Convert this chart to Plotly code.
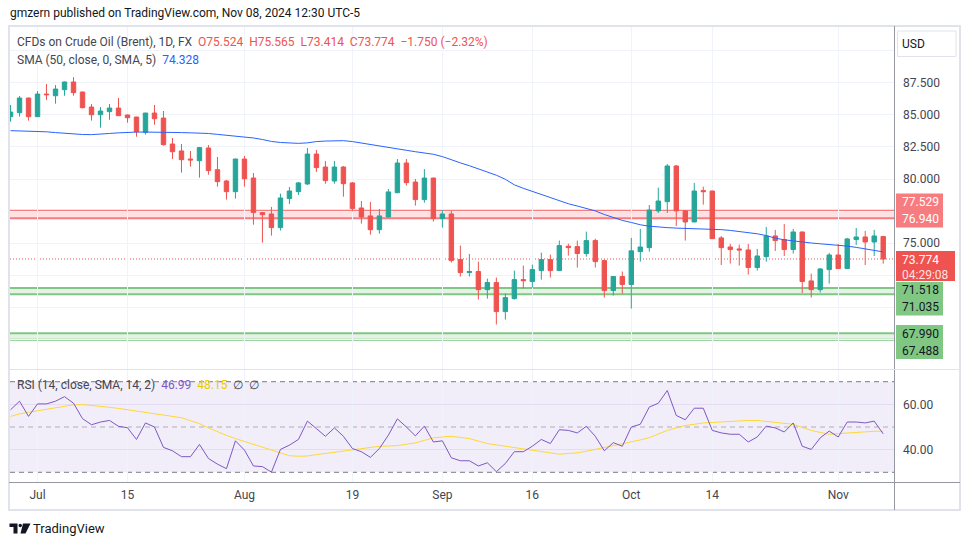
import plotly.graph_objects as go
import pandas as pd

# ---------------- data ----------------
dates = [d.strftime("%Y-%m-%d") for d in pd.bdate_range("2024-06-26", "2024-11-08")]

opens = [84.86, 85.17, 86.31, 84.86, 86.62, 86.49, 86.96, 87.56, 86.78, 85.61,
         85.01, 85.25, 85.53, 84.99, 84.83, 83.64, 85.14, 84.75, 82.73, 82.19,
         81.56, 81.43, 82.42, 80.73, 79.85, 79.02, 81.56, 80.08, 77.39, 77.28,
         76.22, 78.48, 79.02, 79.62, 81.95, 80.94, 79.85, 80.94, 79.70, 77.75,
         77.13, 76.06, 77.05, 78.94, 81.25, 79.77, 78.40, 80.08, 76.92, 77.28,
         73.73, 72.72, 72.80, 71.39, 71.94, 69.68, 70.69, 72.17, 72.02, 72.87,
         73.73, 72.87, 74.77, 74.74, 74.20, 75.21, 73.65, 71.32, 72.41, 71.79,
         74.35, 74.66, 77.52, 78.24, 81.02, 77.52, 76.66, 79.10, 79.07, 75.42,
         74.71, 74.56, 74.48, 73.11, 73.96, 75.57, 75.29, 74.51, 75.88, 72.07,
         71.39, 72.95, 74.09, 73.03, 75.29, 75.49, 75.10, 75.524]
highs = [85.77, 86.47, 86.35, 86.85, 87.40, 87.32, 87.60, 87.94, 86.80, 85.84,
         85.61, 85.84, 86.31, 85.02, 84.85, 85.16, 85.77, 85.30, 83.20, 82.73,
         82.19, 82.50, 82.65, 81.72, 79.93, 81.58, 81.80, 80.47, 77.42, 77.83,
         78.87, 79.38, 79.77, 82.42, 82.26, 81.41, 81.41, 81.02, 79.77, 78.29,
         78.22, 77.67, 79.23, 81.56, 81.56, 80.01, 80.78, 80.10, 77.59, 77.52,
         74.82, 74.17, 73.57, 72.25, 72.33, 71.08, 72.87, 73.26, 73.34, 74.27,
         74.12, 75.21, 74.97, 75.21, 75.91, 75.36, 73.73, 72.43, 72.80, 75.42,
         76.12, 77.98, 79.33, 81.17, 81.10, 77.55, 79.70, 79.41, 79.09, 75.57,
         74.95, 74.90, 74.95, 74.56, 76.27, 76.04, 76.50, 76.12, 75.90, 72.64,
         73.08, 74.25, 74.95, 75.42, 76.19, 75.96, 76.04, 75.565]
lows = [84.47, 84.86, 84.55, 84.84, 86.15, 85.87, 86.49, 86.49, 85.50, 84.55,
        84.00, 84.62, 84.90, 84.39, 83.30, 83.46, 84.23, 82.60, 81.56, 80.50,
        80.97, 80.11, 80.34, 79.41, 78.40, 78.48, 79.41, 76.45, 75.05, 75.60,
        75.99, 78.06, 78.76, 79.54, 80.55, 79.64, 79.64, 78.63, 77.49, 76.53,
        75.67, 75.75, 77.00, 78.90, 79.49, 77.93, 78.16, 76.69, 76.22, 73.50,
        72.41, 72.41, 70.62, 70.69, 68.67, 69.06, 70.62, 71.47, 71.55, 72.17,
        72.33, 72.85, 74.04, 73.11, 73.96, 73.11, 70.77, 70.93, 71.08, 69.92,
        73.57, 74.35, 77.36, 77.36, 76.35, 75.21, 76.64, 78.01, 75.34, 73.31,
        73.42, 73.26, 72.56, 72.87, 73.57, 74.40, 74.01, 74.20, 71.13, 70.77,
        71.16, 71.86, 73.01, 73.01, 74.87, 73.31, 74.01, 73.414]
closes = [85.22, 86.31, 84.86, 86.62, 86.57, 87.01, 87.56, 86.73, 85.56, 85.01,
          85.30, 85.53, 84.94, 84.78, 83.69, 85.14, 84.70, 82.68, 82.13, 81.51,
          81.49, 82.45, 80.66, 79.80, 79.02, 81.56, 80.03, 77.39, 77.23, 76.22,
          78.53, 79.07, 79.70, 81.95, 80.89, 79.88, 80.94, 79.64, 77.70, 77.05,
          76.06, 77.13, 79.00, 81.25, 79.72, 78.40, 80.08, 76.92, 77.28, 73.65,
          72.72, 72.80, 71.39, 71.94, 69.68, 70.77, 72.17, 72.09, 72.95, 73.73,
          72.87, 74.82, 74.66, 74.20, 75.21, 73.57, 71.32, 72.41, 71.79, 74.41,
          74.71, 77.59, 78.29, 81.02, 77.52, 76.66, 79.07, 79.02, 75.36, 74.66,
          74.51, 74.48, 73.11, 74.01, 75.57, 75.21, 74.51, 75.88, 72.02, 71.39,
          73.00, 74.09, 73.03, 75.34, 75.49, 75.10, 75.57, 73.774]
sma50 = [83.77, 83.76, 83.74, 83.72, 83.68, 83.62, 83.56, 83.50, 83.47, 83.46,
         83.48, 83.55, 83.60, 83.64, 83.66, 83.66, 83.66, 83.66, 83.64, 83.62,
         83.60, 83.59, 83.55, 83.48, 83.42, 83.36, 83.30, 83.20, 83.08, 82.93,
         82.85, 82.80, 82.78, 82.82, 82.92, 82.96, 82.98, 82.99, 82.92, 82.80,
         82.68, 82.55, 82.45, 82.35, 82.24, 82.13, 82.03, 81.93, 81.75, 81.49,
         81.26, 81.04, 80.81, 80.58, 80.30, 79.98, 79.55, 79.28, 79.03, 78.78,
         78.52, 78.30, 78.08, 77.90, 77.74, 77.52, 77.24, 77.00, 76.78, 76.62,
         76.44, 76.33, 76.26, 76.22, 76.18, 76.16, 76.14, 76.12, 76.10, 76.06,
         76.00, 75.93, 75.85, 75.74, 75.60, 75.40, 75.27, 75.18, 75.08, 75.02,
         74.96, 74.90, 74.86, 74.78, 74.68, 74.56, 74.42, 74.328]
rsi = [57.6, 61.4, 54.7, 60.2, 60.2, 61.4, 63.4, 60.5, 53.7, 51.0,
       52.2, 52.9, 50.3, 49.7, 44.5, 51.8, 50.0, 41.0, 39.5, 36.9,
       36.9, 42.3, 36.1, 33.6, 31.6, 43.9, 39.8, 32.8, 32.5, 30.1,
       40.1, 42.0, 44.5, 52.6, 49.3, 45.9, 49.6, 45.9, 40.5, 39.1,
       36.6, 40.5, 46.4, 53.6, 50.0, 46.1, 50.4, 43.4, 43.9, 36.4,
       35.1, 35.1, 32.8, 34.2, 30.3, 33.9, 39.1, 39.1, 41.5, 44.5,
       42.7, 48.8, 48.5, 47.4, 50.3, 45.9, 39.5, 43.1, 41.5, 50.0,
       51.2, 58.8, 60.5, 66.1, 55.1, 53.2, 58.3, 58.3, 48.5, 47.4,
       46.8, 46.8, 43.4, 45.6, 50.4, 49.6, 47.8, 51.8, 41.5, 40.1,
       45.2, 48.2, 45.6, 52.2, 52.2, 51.8, 52.6, 46.99]
rsi_ma = [54.7, 55.8, 56.5, 57.2, 57.8, 58.4, 59.2, 59.8, 59.9, 59.6,
          59.1, 58.7, 58.2, 57.6, 57.0, 56.4, 55.8, 55.2, 54.7, 54.1,
          52.8, 51.5, 49.6, 47.8, 46.3, 44.9, 43.6, 42.4, 41.1, 39.8,
          38.5, 37.3, 37.1, 37.2, 37.8, 38.3, 38.9, 39.5, 39.9, 40.4,
          41.0, 41.5, 41.6, 41.8, 42.4, 43.0, 44.1, 45.2, 45.6, 45.9,
          45.4, 44.9, 43.8, 42.7, 42.1, 41.5, 41.0, 40.5, 39.8, 39.1,
          38.5, 38.0, 38.3, 38.6, 39.3, 40.1, 40.9, 41.8, 42.6, 43.4,
          44.3, 45.3, 46.9, 48.5, 49.6, 50.7, 51.2, 51.8, 52.0, 52.2,
          52.5, 52.9, 52.9, 52.9, 52.5, 52.2, 51.7, 51.2, 49.8, 48.5,
          47.6, 46.8, 47.1, 47.4, 47.7, 48.0, 48.1, 48.15]

resistance_zone = [77.529, 76.940]
support_zone_1 = [71.518, 71.035]
support_zone_2 = [67.990, 67.488]
last_price = 73.774
countdown = "04:29:08"

tick_dates = ["2024-07-01", "2024-07-15", "2024-08-01", "2024-08-19", "2024-09-02",
              "2024-09-16", "2024-10-01", "2024-10-14", "2024-11-01"]
tick_text = ["Jul", "15", "Aug", "19", "Sep", "16", "Oct", "14", "Nov"]
price_ticks = [67.5, 70, 72.5, 75, 77.5, 80, 82.5, 85, 87.5, 90]
price_tick_text = ["", "", "", "75.000", "", "80.000", "82.500", "85.000", "87.500", ""]
rsi_ticks = [40, 60]
rsi_tick_text = ["40.00", "60.00"]

# ---------------- styling ----------------
W, H = 970, 545
ML, MR, MT, MB = 10, 76, 26, 63
PW, PH = W - ML - MR, H - MT - MB
SPLIT = (482 - 369.5) / PH
UP, DOWN = "#26a69a", "#ef5350"
FONT = "Roboto, Arial, sans-serif"
TXT = "#131722"


def PX(x):
    return (x - ML) / PW


def PY(y):
    return (H - MB - y) / PH


fig = go.Figure()
fig.add_trace(go.Candlestick(
    x=dates, open=opens, high=highs, low=lows, close=closes,
    increasing=dict(line=dict(color=UP, width=1), fillcolor=UP),
    decreasing=dict(line=dict(color=DOWN, width=1), fillcolor=DOWN),
    whiskerwidth=0, xaxis="x", yaxis="y", hoverinfo="skip"))
fig.add_trace(go.Scatter(x=dates, y=sma50, mode="lines",
                         line=dict(color="#2962ff", width=1), xaxis="x", yaxis="y",
                         hoverinfo="skip"))
fig.add_trace(go.Scatter(x=dates, y=rsi_ma, mode="lines",
                         line=dict(color="#fdd835", width=1), xaxis="x2", yaxis="y2",
                         hoverinfo="skip"))
fig.add_trace(go.Scatter(x=dates, y=rsi, mode="lines",
                         line=dict(color="#7e57c2", width=1), xaxis="x2", yaxis="y2",
                         hoverinfo="skip"))

shapes = []
# zones
for zone, fill, lc in [(resistance_zone, "rgba(242,54,69,0.15)", "#f77c80"),
                       (support_zone_1, "rgba(76,175,80,0.15)", "#81c784"),
                       (support_zone_2, "rgba(76,175,80,0.15)", "#81c784")]:
    shapes.append(dict(type="rect", xref="paper", yref="y", x0=0, x1=1,
                       y0=zone[1], y1=zone[0], fillcolor=fill, line_width=0,
                       layer="between"))
    for v in zone:
        shapes.append(dict(type="line", xref="paper", yref="y", x0=0, x1=1,
                           y0=v, y1=v, line=dict(color=lc, width=2), layer="between"))
# last price dotted line
shapes.append(dict(type="line", xref="paper", yref="y", x0=0, x1=1,
                   y0=last_price, y1=last_price,
                   line=dict(color=DOWN, width=1, dash="1px,2px"), layer="between"))
# RSI band and levels
shapes.append(dict(type="rect", xref="paper", yref="y2", x0=0, x1=1, y0=30, y1=70,
                   fillcolor="rgba(126,87,194,0.1)", line_width=0, layer="below"))
for lvl, col in [(70, "#787b86"), (50, "rgba(120,123,134,0.55)"), (30, "#787b86")]:
    shapes.append(dict(type="line", xref="paper", yref="y2", x0=0, x1=1, y0=lvl, y1=lvl,
                       line=dict(color=col, width=1, dash="5px,4px"), layer="between"))

# frame and separators (pixel positions converted to paper)
shapes.append(dict(type="rect", xref="paper", yref="paper", x0=PX(9), x1=PX(960),
                   y0=PY(510), y1=PY(26), line=dict(color="#e0e3eb", width=2),
                   fillcolor="rgba(0,0,0,0)", layer="above"))
shapes.append(dict(type="line", xref="paper", yref="paper", x0=PX(894.5), x1=PX(894.5),
                   y0=PY(510), y1=PY(26), line=dict(color="#9598a1", width=1),
                   layer="above"))
shapes.append(dict(type="line", xref="paper", yref="paper", x0=PX(9), x1=PX(960),
                   y0=PY(369.5), y1=PY(369.5), line=dict(color="#e0e3eb", width=1),
                   layer="above"))
shapes.append(dict(type="line", xref="paper", yref="paper", x0=PX(9), x1=PX(960),
                   y0=PY(482.5), y1=PY(482.5), line=dict(color="#9598a1", width=1),
                   layer="above"))
# USD button
shapes.append(dict(type="rect", xref="paper", yref="paper", x0=PX(897.5), x1=PX(956),
                   y0=PY(56.5), y1=PY(31), line=dict(color="#e0e3eb", width=1),
                   fillcolor="white", layer="above"))
# price label boxes
boxes = [(896, 943, 193.5, 227.5, "#f77c80"),
         (896, 955, 251, 281, "#ef5350"),
         (896, 943, 282, 315.5, "#81c784"),
         (896, 943, 325, 359, "#81c784")]
for x0, x1, y0, y1, c in boxes:
    shapes.append(dict(type="rect", xref="paper", yref="paper", x0=PX(x0), x1=PX(x1),
                       y0=PY(y1), y1=PY(y0), fillcolor=c, line_width=0, layer="above"))
# TradingView logo
shapes.append(dict(type="path", xref="paper", yref="paper",
                   path=f"M {PX(9.5)} {PY(523.5)} L {PX(17.5)} {PY(523.5)} L {PX(17.5)} {PY(533.5)} "
                        f"L {PX(13.5)} {PY(533.5)} L {PX(13.5)} {PY(527)} L {PX(9.5)} {PY(527)} Z",
                   fillcolor=TXT, line_width=0, layer="above"))
shapes.append(dict(type="circle", xref="paper", yref="paper", x0=PX(18.5), x1=PX(22),
                   y0=PY(527.2), y1=PY(523.7), fillcolor=TXT, line_width=0, layer="above"))
shapes.append(dict(type="path", xref="paper", yref="paper",
                   path=f"M {PX(23)} {PY(523.5)} L {PX(30.5)} {PY(523.5)} L {PX(25.5)} {PY(533.5)} "
                        f"L {PX(20.5)} {PY(533.5)} Z",
                   fillcolor=TXT, line_width=0, layer="above"))


def ann(x, y, text, size=12, color=TXT, xanchor="left"):
    return dict(xref="paper", yref="paper", x=PX(x), y=PY(y), text=text, showarrow=False,
                xanchor=xanchor, yanchor="middle", font=dict(family=FONT, size=size, color=color))


red = "#ef5350"
annotations = [
    ann(8, 13, "gmzern published on TradingView.com, Nov 08, 2024 12:30 UTC-5", 12, TXT),
    ann(15, 42, "CFDs on Crude Oil (Brent), 1D, FX&nbsp;&nbsp;"
                f"<span style='color:{red}'>O{opens[-1]:.3f}&nbsp;&nbsp;H{highs[-1]:.3f}&nbsp;&nbsp;"
                f"L{lows[-1]:.3f}&nbsp;&nbsp;C{closes[-1]:.3f}&nbsp;&nbsp;"
                f"−{opens[-1]-closes[-1]:.3f} (−2.32%)</span>", 12, "#434651"),
    ann(15, 60, f"SMA (50, close, 0, SMA, 5)&nbsp;&nbsp;<span style='color:#2962ff'>{sma50[-1]:.3f}</span>",
        12, "#434651"),
    ann(15, 385, f"RSI (14, close, SMA, 14, 2)&nbsp;&nbsp;<span style='color:#7e57c2'>{rsi[-1]:.2f}</span>"
                 f"&nbsp;&nbsp;<span style='color:#e8cc00'>{rsi_ma[-1]:.2f}</span>&nbsp;&nbsp;∅&nbsp;&nbsp;∅",
        12, "#434651"),
    ann(900, 44, "USD", 12, TXT),
    ann(900, 202, f"{resistance_zone[0]:.3f}", 12, "white"),
    ann(900, 219, f"{resistance_zone[1]:.3f}", 12, "white"),
    ann(900, 259.5, f"{last_price:.3f}", 12, "white"),
    ann(900, 274.5, countdown, 12, "rgba(255,255,255,0.85)"),
    ann(900, 290, f"{support_zone_1[0]:.3f}", 12, TXT),
    ann(900, 307, f"{support_zone_1[1]:.3f}", 12, TXT),
    ann(900, 333.5, f"{support_zone_2[0]:.3f}", 12, TXT),
    ann(900, 350.5, f"{support_zone_2[1]:.3f}", 12, TXT),
    ann(31, 528, "TradingView", 13, TXT),
]

x_range = [-0.06, len(dates) + 0.2]
axis_font = dict(family=FONT, size=12, color="#434651")
fig.update_layout(
    width=W, height=H, margin=dict(l=ML, r=MR, t=MT, b=MB),
    paper_bgcolor="white", plot_bgcolor="white", showlegend=False,
    font=dict(family=FONT, color=TXT),
    xaxis=dict(type="category", range=x_range, domain=[0, 1], anchor="y",
               tickvals=tick_dates, ticktext=tick_text, showticklabels=False,
               showgrid=True, gridcolor="#f0f3fa", gridwidth=1, zeroline=False,
               rangeslider=dict(visible=False), fixedrange=True),
    xaxis2=dict(type="category", range=x_range, domain=[0, 1], anchor="y2", matches="x",
                tickvals=tick_dates, ticktext=tick_text, showticklabels=True,
                tickfont=axis_font, ticks="", ticklabelstandoff=4,
                showgrid=True, gridcolor="#f0f3fa", gridwidth=1, zeroline=False),
    yaxis=dict(domain=[SPLIT, 1], range=[65.17, 91.92], side="right", anchor="x",
               tickvals=price_ticks, ticktext=price_tick_text, tickfont=axis_font,
               ticks="", ticklabelstandoff=8, showgrid=True, gridcolor="#f0f3fa",
               zeroline=False),
    yaxis2=dict(domain=[0, SPLIT], range=[25.72, 75.39], side="right", anchor="x2",
                tickvals=rsi_ticks, ticktext=rsi_tick_text, tickfont=axis_font,
                ticks="", ticklabelstandoff=8, showgrid=True,
                gridcolor="rgba(126,87,194,0.12)", zeroline=False),
    shapes=shapes, annotations=annotations,
)

fig.write_html("out.html", config={"displayModeBar": False},
               post_script="document.body.style.margin='0';")
